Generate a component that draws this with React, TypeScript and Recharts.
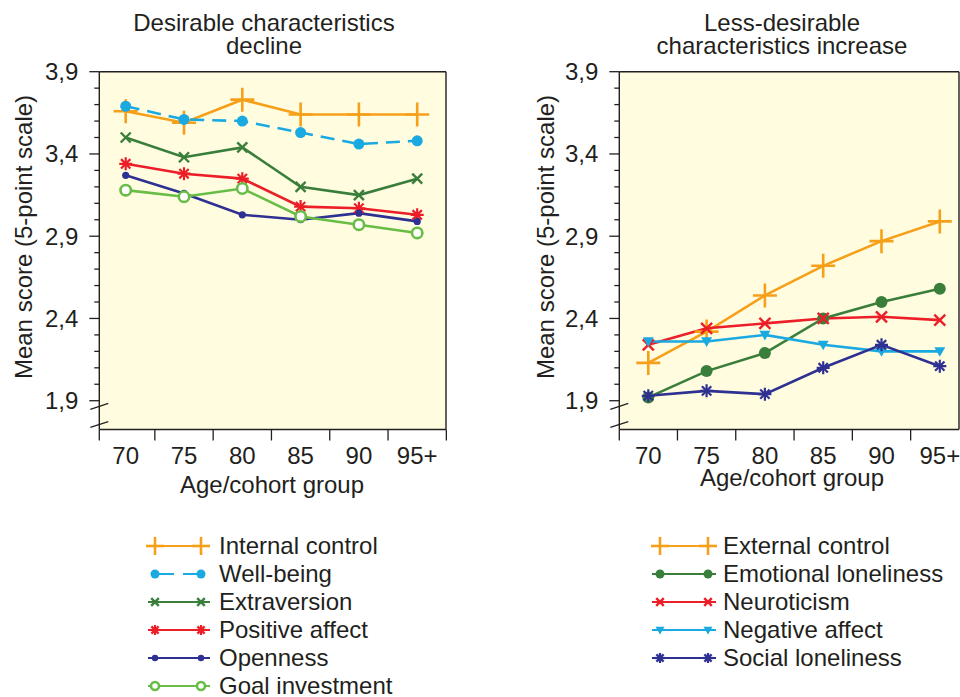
import React from "react";
import { CartesianGrid, Legend, Line, LineChart, XAxis, YAxis } from "recharts";

// age/cohort categories
const ageGroups = ["70", "75", "80", "85", "90", "95+"];

// desirable characteristics (left panel)
const internalControl = [3.66, 3.59, 3.73, 3.64, 3.64, 3.64];
const wellBeing = [3.69, 3.61, 3.6, 3.53, 3.46, 3.48];
const extraversion = [3.5, 3.38, 3.44, 3.2, 3.15, 3.25];
const positiveAffect = [3.34, 3.28, 3.25, 3.08, 3.07, 3.03];
const openness = [3.27, 3.16, 3.03, 3.0, 3.04, 2.99];
const goalInvestment = [3.18, 3.14, 3.19, 3.02, 2.97, 2.92];

// less-desirable characteristics (right panel)
const externalControl = [2.13, 2.32, 2.54, 2.72, 2.87, 2.99];
const emotionalLoneliness = [1.92, 2.08, 2.19, 2.4, 2.5, 2.58];
const neuroticism = [2.24, 2.34, 2.37, 2.4, 2.41, 2.39];
const negativeAffect = [2.26, 2.26, 2.3, 2.24, 2.2, 2.2];
const socialLoneliness = [1.93, 1.96, 1.94, 2.1, 2.24, 2.11];

const yTicks = [
  1.9, 2.0, 2.1, 2.2, 2.3, 2.4, 2.5, 2.6, 2.7, 2.8, 2.9, 3.0, 3.1, 3.2, 3.3, 3.4, 3.5, 3.6, 3.7,
  3.8, 3.9,
];
const yMajorTicks = [1.9, 2.4, 2.9, 3.4, 3.9];
const yDomain: [number, number] = [1.725, 3.9];

const FONT = '"Liberation Sans", Arial, Helvetica, sans-serif';
const INK = "#231F20";
const PLOT_BG = "#FFFCE0";
const ORANGE = "#F6A01A";
const CYAN = "#1AA9E0";
const DARK_GREEN = "#3A7E3B";
const RED = "#EC1E28";
const NAVY = "#2E3192";
const LIGHT_GREEN = "#67BD45";

type MarkerKind = "plus" | "dot" | "cross" | "star" | "ring" | "triangle";

type Series = {
  key: string;
  label: string;
  color: string;
  marker: MarkerKind;
  size: number;
  legendSize: number;
  dashed?: boolean;
  values: number[];
};

const leftSeries: Series[] = [
  { key: "internal", label: "Internal control", color: ORANGE, marker: "plus", size: 12, legendSize: 9, values: internalControl },
  { key: "wellbeing", label: "Well-being", color: CYAN, marker: "dot", size: 5.5, legendSize: 4.5, dashed: true, values: wellBeing },
  { key: "extraversion", label: "Extraversion", color: DARK_GREEN, marker: "cross", size: 5, legendSize: 3.8, values: extraversion },
  { key: "positive", label: "Positive affect", color: RED, marker: "star", size: 6.5, legendSize: 5, values: positiveAffect },
  { key: "openness", label: "Openness", color: NAVY, marker: "dot", size: 3.6, legendSize: 3.2, values: openness },
  { key: "goal", label: "Goal investment", color: LIGHT_GREEN, marker: "ring", size: 5.2, legendSize: 4, values: goalInvestment },
];

const rightSeries: Series[] = [
  { key: "external", label: "External control", color: ORANGE, marker: "plus", size: 12, legendSize: 9, values: externalControl },
  { key: "emotional", label: "Emotional loneliness", color: DARK_GREEN, marker: "dot", size: 6, legendSize: 4.5, values: emotionalLoneliness },
  { key: "neuroticism", label: "Neuroticism", color: RED, marker: "cross", size: 5.5, legendSize: 3.8, values: neuroticism },
  { key: "negative", label: "Negative affect", color: CYAN, marker: "triangle", size: 5.5, legendSize: 4.5, values: negativeAffect },
  { key: "social", label: "Social loneliness", color: NAVY, marker: "star", size: 6.5, legendSize: 5, values: socialLoneliness },
];

function Marker({ kind, cx, cy, color, size }: { kind: MarkerKind; cx: number; cy: number; color: string; size: number }) {
  if (cx == null || cy == null) return null;
  const s = size;
  switch (kind) {
    case "plus":
      return (
        <g stroke={color} strokeWidth={2.6}>
          <line x1={cx - s} x2={cx + s} y1={cy} y2={cy} />
          <line x1={cx} x2={cx} y1={cy - s} y2={cy + s} />
        </g>
      );
    case "dot":
      return <circle cx={cx} cy={cy} r={s} fill={color} />;
    case "ring":
      return <circle cx={cx} cy={cy} r={s} fill="#ffffff" stroke={color} strokeWidth={2.6} />;
    case "cross":
      return (
        <g stroke={color} strokeWidth={2.4}>
          <line x1={cx - s} x2={cx + s} y1={cy - s} y2={cy + s} />
          <line x1={cx - s} x2={cx + s} y1={cy + s} y2={cy - s} />
        </g>
      );
    case "star": {
      const d = s * 0.72;
      return (
        <g stroke={color} strokeWidth={2.2}>
          <line x1={cx - s} x2={cx + s} y1={cy} y2={cy} />
          <line x1={cx} x2={cx} y1={cy - s} y2={cy + s} />
          <line x1={cx - d} x2={cx + d} y1={cy - d} y2={cy + d} />
          <line x1={cx - d} x2={cx + d} y1={cy + d} y2={cy - d} />
        </g>
      );
    }
    case "triangle":
      return (
        <polygon
          points={`${cx - s},${cy - s * 0.75} ${cx + s},${cy - s * 0.75} ${cx},${cy + s}`}
          fill={color}
        />
      );
    default:
      return null;
  }
}

type PanelLayout = {
  offsetX: number;
  title: string[];
  titleCenter: number;
  plotLeft: number;
  plotRight: number;
  padLeft: number;
  padRight: number;
  yLabelX: number;
  xLabelX: number;
  xLabelY: number;
  legendLeft: number;
  legendLine: [number, number];
  legendMarks: [number, number];
};

const PLOT_TOP = 71.7;
const PLOT_BOTTOM = 429.5;
const HALF_STEP = 29.15;
const PANEL_W = 480;
const PANEL_H = 697;
const Y_AXIS_W = 60;
const X_AXIS_H = 60;

const leftLayout: PanelLayout = {
  offsetX: 0,
  title: ["Desirable characteristics", "decline"],
  titleCenter: 264,
  plotLeft: 99.3,
  plotRight: 446,
  padLeft: 26.4,
  padRight: 28.8,
  yLabelX: 32,
  xLabelX: 272,
  xLabelY: 493,
  legendLeft: 145,
  legendLine: [3, 65],
  legendMarks: [10, 56],
};

const rightLayout: PanelLayout = {
  offsetX: 480,
  title: ["Less-desirable", "characteristics increase"],
  titleCenter: 302,
  plotLeft: 139.3,
  plotRight: 479,
  padLeft: 29,
  padRight: 19.2,
  yLabelX: 74,
  xLabelX: 312,
  xLabelY: 486,
  legendLeft: 169,
  legendLine: [3, 67],
  legendMarks: [11, 59],
};

const fmt = (v: number) => v.toFixed(1).replace(".", ",");

function makeYTick(axisX: number) {
  return (props: any) => {
    const { y, payload } = props;
    const v = Number(payload.value);
    const major = yMajorTicks.some((m) => Math.abs(m - v) < 1e-6);
    const isFirst = Math.abs(v - yTicks[0]) < 1e-6;
    return (
      <g>
        <line x1={axisX - (major ? 10 : 5)} x2={axisX} y1={y} y2={y} stroke={INK} strokeWidth={1.3} />
        {major && (
          <text x={axisX - 21} y={y + 8.4} textAnchor="end" fontFamily={FONT} fontSize={24} fill={INK}>
            {fmt(v)}
          </text>
        )}
        {isFirst && (
          <g stroke={INK} strokeWidth={1.3}>
            <line x1={axisX - 9} x2={axisX + 9} y1={y + 8.6} y2={y + 2.6} />
            <line x1={axisX - 9} x2={axisX + 9} y1={y + 26.6} y2={y + 21} />
          </g>
        )}
      </g>
    );
  };
}

function makeXTick(plotLeft: number, lastIndex: number) {
  return (props: any) => {
    const { x, payload, index } = props;
    const b0 = index === 0 ? plotLeft : x - HALF_STEP;
    return (
      <g>
        <line x1={b0} x2={b0} y1={PLOT_BOTTOM} y2={PLOT_BOTTOM + 11} stroke={INK} strokeWidth={1.3} />
        {index === lastIndex && (
          <line x1={x + HALF_STEP} x2={x + HALF_STEP} y1={PLOT_BOTTOM} y2={PLOT_BOTTOM + 11} stroke={INK} strokeWidth={1.3} />
        )}
        <text x={x} y={PLOT_BOTTOM + 34} textAnchor="middle" fontFamily={FONT} fontSize={24} fill={INK}>
          {payload.value}
        </text>
      </g>
    );
  };
}

function LegendBlock({ series, layout }: { series: Series[]; layout: PanelLayout }) {
  return (
    <div style={{ fontFamily: FONT, fontSize: 24, color: INK }}>
      {series.map((s) => (
        <div key={s.key} style={{ display: "flex", alignItems: "center", height: 28 }}>
          <svg width={72} height={28} style={{ flex: "none" }}>
            <line
              x1={s.dashed ? layout.legendMarks[0] : layout.legendLine[0]}
              x2={s.dashed ? layout.legendMarks[1] : layout.legendLine[1]}
              y1={14}
              y2={14}
              stroke={s.color}
              strokeWidth={2.2}
              strokeDasharray={s.dashed ? "19 9" : undefined}
            />
            <Marker kind={s.marker} cx={layout.legendMarks[0]} cy={14} color={s.color} size={s.legendSize} />
            <Marker kind={s.marker} cx={layout.legendMarks[1]} cy={14} color={s.color} size={s.legendSize} />
          </svg>
          <span style={{ marginLeft: 2, lineHeight: "28px", whiteSpace: "nowrap" }}>{s.label}</span>
        </div>
      ))}
    </div>
  );
}

function Panel({ series, layout }: { series: Series[]; layout: PanelLayout }) {
  const data = ageGroups.map((age, i) => {
    const row: Record<string, string | number> = { age };
    series.forEach((s) => {
      row[s.key] = s.values[i];
    });
    return row;
  });

  return (
    <div style={{ position: "absolute", left: layout.offsetX, top: 0, width: PANEL_W, height: PANEL_H }}>
      <div
        style={{
          position: "absolute",
          left: layout.titleCenter - 200,
          top: 10.5,
          width: 400,
          textAlign: "center",
          fontFamily: FONT,
          fontSize: 24,
          lineHeight: "23px",
          color: INK,
          zIndex: 2,
        }}
      >
        {layout.title.map((t) => (
          <div key={t}>{t}</div>
        ))}
      </div>
      <LineChart
        width={PANEL_W}
        height={PANEL_H}
        data={data}
        margin={{
          top: PLOT_TOP,
          right: PANEL_W - layout.plotRight,
          bottom: PANEL_H - PLOT_BOTTOM - X_AXIS_H,
          left: layout.plotLeft - Y_AXIS_W,
        }}
      >
        <CartesianGrid
          fill={PLOT_BG}
          fillOpacity={1}
          stroke={INK}
          strokeWidth={1.4}
          horizontalPoints={[PLOT_TOP, PLOT_BOTTOM]}
          verticalPoints={[layout.plotLeft, layout.plotRight]}
        />
        <XAxis
          dataKey="age"
          scale="point"
          padding={{ left: layout.padLeft, right: layout.padRight }}
          height={X_AXIS_H}
          interval={0}
          axisLine={false}
          tickLine={false}
          tick={makeXTick(layout.plotLeft, ageGroups.length - 1)}
          label={() => (
            <text x={layout.xLabelX} y={layout.xLabelY} textAnchor="middle" fontFamily={FONT} fontSize={24} fill={INK}>
              Age/cohort group
            </text>
          )}
        />
        <YAxis
          type="number"
          domain={yDomain}
          allowDataOverflow
          ticks={yTicks}
          interval={0}
          width={Y_AXIS_W}
          axisLine={false}
          tickLine={false}
          tick={makeYTick(layout.plotLeft)}
          label={() => (
            <text
              x={layout.yLabelX}
              y={237}
              transform={`rotate(-90, ${layout.yLabelX}, 237)`}
              textAnchor="middle"
              fontFamily={FONT}
              fontSize={24}
              fill={INK}
            >
              Mean score (5-point scale)
            </text>
          )}
        />
        {series.map((s) => (
          <Line
            key={s.key}
            type="linear"
            dataKey={s.key}
            name={s.label}
            stroke={s.color}
            strokeWidth={2.6}
            strokeDasharray={s.dashed ? "14 8" : undefined}
            isAnimationActive={false}
            activeDot={false}
            dot={(p: any) => (
              <Marker key={`${s.key}-${p.index}`} kind={s.marker} cx={p.cx} cy={p.cy} color={s.color} size={s.size} />
            )}
          />
        ))}
        <Legend
          layout="horizontal"
          verticalAlign="middle"
          align="center"
          wrapperStyle={{ top: 532, left: layout.legendLeft, width: 320, height: 170 }}
          content={() => <LegendBlock series={series} layout={layout} />}
        />
      </LineChart>
    </div>
  );
}

export default function App() {
  return (
    <div
      style={{
        position: "fixed",
        left: 0,
        top: 0,
        width: 960,
        height: 697,
        overflow: "hidden",
        background: "#ffffff",
      }}
    >
      <Panel series={leftSeries} layout={leftLayout} />
      <Panel series={rightSeries} layout={rightLayout} />
    </div>
  );
}
